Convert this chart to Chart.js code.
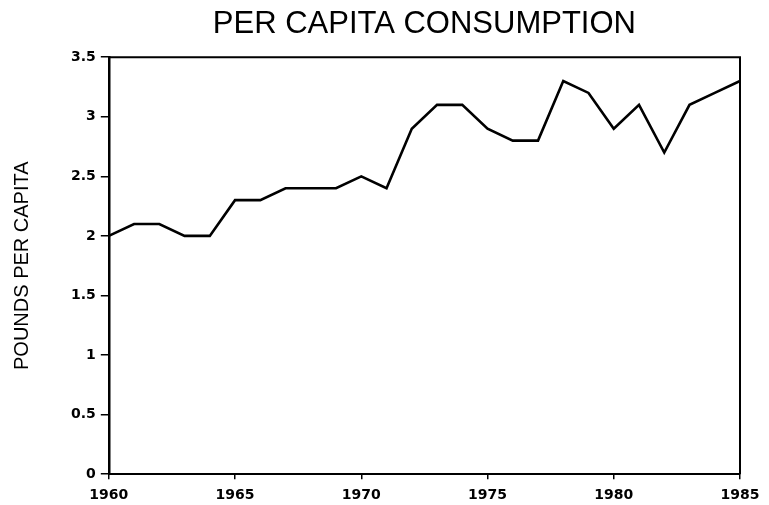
<!DOCTYPE html>
<html>
<head>
<meta charset="utf-8">
<script src="https://cdn.jsdelivr.net/npm/chart.js@4/dist/chart.umd.min.js"></script>
<style>
html,body{margin:0;padding:0;background:#fff;}
#wrap{width:769px;height:505px;position:relative;}
</style>
</head>
<body>
<div id="wrap"><canvas id="c"></canvas></div>
<script>
const years = [1960,1961,1962,1963,1964,1965,1966,1967,1968,1969,1970,1971,1972,1973,1974,1975,1976,1977,1978,1979,1980,1981,1982,1983,1984,1985];
const poundsPerCapita = [2.0,2.1,2.1,2.0,2.0,2.3,2.3,2.4,2.4,2.4,2.5,2.4,2.9,3.1,3.1,2.9,2.8,2.8,3.3,3.2,2.9,3.1,2.7,3.1,3.2,3.3];
const xTickLabels = [1960,1965,1970,1975,1980,1985];
const yTickLabels = [0,0.5,1,1.5,2,2.5,3,3.5];
const titleText = 'PER CAPITA CONSUMPTION';
const yTitleText = 'POUNDS PER CAPITA';

const frame = {
  id:'frame',
  afterDatasetsDraw(chart){
    const {ctx, chartArea:a} = chart;
    ctx.save();
    ctx.strokeStyle='#000';
    ctx.lineWidth=2;
    ctx.beginPath();
    ctx.moveTo(a.left,a.top);ctx.lineTo(a.right,a.top);ctx.lineTo(a.right,a.bottom);
    ctx.stroke();
    ctx.restore();
  }
};

const thinFont = "'Liberation Sans', Arial, sans-serif";

new Chart(document.getElementById('c'),{
  type:'line',
  data:{
    datasets:[{
      data: years.map((y,i)=>({x:y,y:poundsPerCapita[i]})),
      borderColor:'#000',
      borderWidth:2.6,
      pointRadius:0,
      tension:0,
      fill:false
    }]
  },
  options:{
    responsive:true,
    maintainAspectRatio:false,
    animation:false,
    layout:{padding:{left:10,right:29,top:6,bottom:1}},
    plugins:{
      legend:{display:false},
      tooltip:{enabled:false},
      title:{display:true,text:titleText,color:'#000',fullSize:false,
        font:{family:thinFont,size:31,weight:'normal'},
        padding:{top:0,bottom:14}}
    },
    scales:{
      x:{
        type:'linear',min:1960,max:1985,
        afterBuildTicks(s){s.ticks = xTickLabels.map(v=>({value:v}));},
        afterFit(s){s.height -= 8;},
        grid:{display:true,drawOnChartArea:false,drawTicks:true,tickLength:5,color:'#000',lineWidth:1.5},
        border:{display:true,color:'#000',width:2},
        ticks:{color:'#000',font:{family:'DejaVu Sans',size:14,weight:'bold'},padding:8,maxRotation:0,
          callback:v=>String(v)}
      },
      y:{
        min:0,max:3.5,
        afterBuildTicks(s){s.ticks = yTickLabels.map(v=>({value:v}));},
        grid:{display:true,drawOnChartArea:false,drawTicks:true,tickLength:8,color:'#000',lineWidth:1.5},
        border:{display:true,color:'#000',width:2.5},
        ticks:{color:'#000',font:{family:'DejaVu Sans',size:14,weight:'bold'},padding:5,
          callback:v=>String(v)},
        title:{display:true,text:yTitleText,color:'#000',
          font:{family:thinFont,size:20,weight:'normal'},padding:{top:0,bottom:32}}
      }
    }
  },
  plugins:[frame]
});
</script>
</body>
</html>
